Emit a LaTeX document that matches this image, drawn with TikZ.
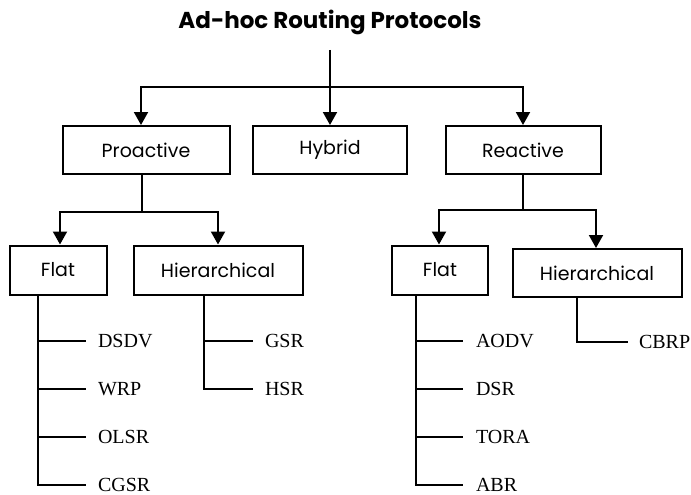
\documentclass[tikz,border=0pt]{standalone}
\usepackage{fontspec}
\setmainfont{Liberation Serif}
\newfontfamily\geofont{Poppins}
\usetikzlibrary{arrows.meta, positioning}

\begin{document}
\begin{tikzpicture}[
    x=1pt, y=-1pt,
    line width=2pt,
    >={Triangle[length=13pt, width=14pt]},
    classbox/.style={
        rectangle,
        draw,
        line width=2pt,
        minimum height=48pt,
        inner sep=0pt,
        font=\geofont\fontsize{19}{22}\selectfont
    },
    protname/.style={
        anchor=west,
        inner sep=0pt,
        font=\fontsize{20}{24}\selectfont
    }
]
\fill[white] (0,0) rectangle (691,495);
\useasboundingbox (0,0) rectangle (691,495);

\node[font=\geofont\bfseries\fontsize{23}{26}\selectfont] (title) at (330,22) {Ad-hoc Routing Protocols};

\node[classbox, minimum width=167pt] (proactive) at (146,150) {Proactive};
\node[classbox, minimum width=154pt] (hybrid) at (330,150) {Hybrid};
\node[classbox, minimum width=155pt] (reactive) at (523,150) {Reactive};

\node[classbox, minimum width=97pt, minimum height=49pt] (pflat) at (58,270) {Flat};
\node[classbox, minimum width=169pt, minimum height=49pt] (phier) at (218,270) {Hierarchical};
\node[classbox, minimum width=96pt, minimum height=49pt] (rflat) at (440,270) {Flat};
\node[classbox, minimum width=169pt] (rhier) at (597,273) {Hierarchical};

\coordinate (rootstem) at (330,50);
\coordinate (rootsplit) at (330,87);
\draw[->] (rootstem) -- (hybrid);
\draw[->] (rootsplit) -| ([xshift=-5pt]proactive.north);
\draw[->] (rootsplit) -| (reactive);

\coordinate (prosplit) at (142,212);
\draw ([xshift=-4pt]proactive.south) -- (prosplit);
\draw[->] (prosplit) -| ([xshift=2pt]pflat.north);
\draw[->] (prosplit) -| (phier);

\coordinate (reasplit) at (523,210);
\draw (reactive) -- (reasplit);
\draw[->] (reasplit) -| ([xshift=-1pt]rflat.north);
\draw[->] (reasplit) -| ([xshift=-1pt]rhier.north);

\foreach \pname [count=\i] in {DSDV,WRP,OLSR,CGSR} {
    \node[protname] (pf\i) at (97,293+48*\i) {\pname};
    \draw ([xshift=-20pt]pflat.south) |- ([xshift=-11pt]pf\i.west);
}
\foreach \pname [count=\i] in {GSR,HSR} {
    \node[protname] (ph\i) at (264,293+48*\i) {\pname};
    \draw ([xshift=-14pt]phier.south) |- ([xshift=-11pt]ph\i.west);
}
\foreach \pname [count=\i] in {AODV,DSR,TORA,ABR} {
    \node[protname] (rf\i) at (475,293+48*\i) {\pname};
    \draw ([xshift=-24pt]rflat.south) |- ([xshift=-12pt]rf\i.west);
}
\node[protname] (rh1) at (638,342) {CBRP};
\draw ([xshift=-20pt]rhier.south) |- ([xshift=-10pt]rh1.west);
\end{tikzpicture}
\end{document}
